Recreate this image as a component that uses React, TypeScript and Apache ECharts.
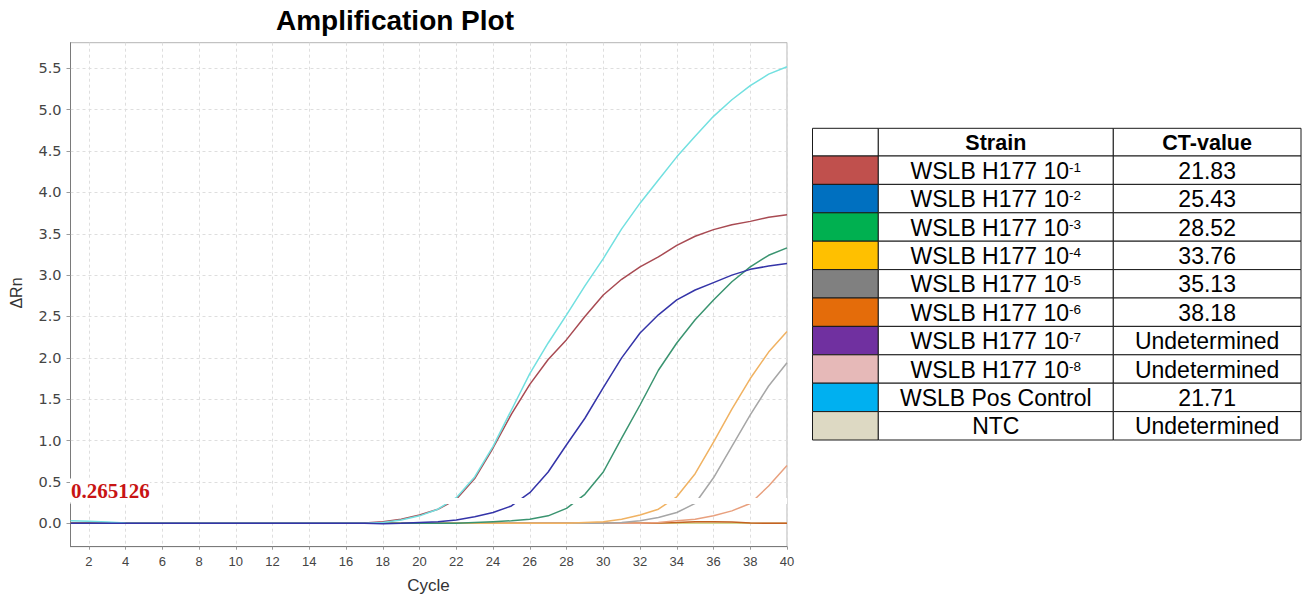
import React, { useEffect, useRef } from "react";
import * as echarts from "echarts";

// ---------- data ----------
const cycles = [1, 2, 3, 4, 5, 6, 7, 8, 9, 10, 11, 12, 13, 14, 15, 16, 17, 18, 19, 20, 21, 22, 23, 24, 25, 26, 27, 28, 29, 30, 31, 32, 33, 34, 35, 36, 37, 38, 39, 40];
const xTicks = [2, 4, 6, 8, 10, 12, 14, 16, 18, 20, 22, 24, 26, 28, 30, 32, 34, 36, 38, 40];
const yTicks = [0, 0.5, 1, 1.5, 2, 2.5, 3, 3.5, 4, 4.5, 5, 5.5];
const threshold = 0.265126;

const posControl = [0.03, 0.025, 0.015, 0.005, 0, 0, 0, 0, 0, 0, 0, 0, 0, 0, 0, 0, 0, 0.01, 0.04, 0.09, 0.17, 0.31, 0.56, 0.93, 1.37, 1.81, 2.18, 2.52, 2.87, 3.2, 3.56, 3.87, 4.15, 4.43, 4.68, 4.92, 5.12, 5.29, 5.43, 5.52];
const dil1 = [0, 0, 0, 0, 0, 0, 0, 0, 0, 0, 0, 0, 0, 0, 0, 0, 0.005, 0.02, 0.05, 0.1, 0.17, 0.29, 0.54, 0.91, 1.32, 1.68, 1.98, 2.22, 2.5, 2.76, 2.95, 3.1, 3.22, 3.36, 3.47, 3.55, 3.61, 3.65, 3.7, 3.73];
const dil2 = [0, 0, 0, 0, 0, 0, 0, 0, 0, 0, 0, 0, 0, 0, 0, 0, 0, -0.005, 0, 0.01, 0.02, 0.04, 0.08, 0.13, 0.21, 0.37, 0.62, 0.95, 1.27, 1.64, 2.0, 2.3, 2.52, 2.7, 2.82, 2.91, 3.0, 3.07, 3.11, 3.14];
const dil3 = [0, 0, 0, 0, 0, 0, 0, 0, 0, 0, 0, 0, 0, 0, 0, 0, 0, 0, 0, 0, 0, 0, 0.01, 0.02, 0.03, 0.05, 0.09, 0.18, 0.35, 0.62, 1.03, 1.43, 1.85, 2.18, 2.46, 2.7, 2.92, 3.1, 3.24, 3.33];
const dil4 = [0, 0, 0, 0, 0, 0, 0, 0, 0, 0, 0, 0, 0, 0, 0, 0, 0, 0, 0, 0, 0, 0, 0, 0, 0, 0, 0, 0, 0.01, 0.02, 0.05, 0.1, 0.17, 0.32, 0.6, 0.98, 1.38, 1.75, 2.07, 2.32];
const dil5 = [0, 0, 0, 0, 0, 0, 0, 0, 0, 0, 0, 0, 0, 0, 0, 0, 0, 0, 0, 0, 0, 0, 0, 0, 0, 0, 0, 0, 0, 0, 0.01, 0.03, 0.07, 0.13, 0.24, 0.55, 0.93, 1.31, 1.66, 1.94];
const dil6 = [0, 0, 0, 0, 0, 0, 0, 0, 0, 0, 0, 0, 0, 0, 0, 0, 0, 0, 0, 0, 0, 0, 0, 0, 0, 0, 0, 0, 0, 0, 0, 0, 0.01, 0.03, 0.05, 0.09, 0.15, 0.24, 0.45, 0.7];
const dil7 = [0, 0, 0, 0, 0, 0, 0, 0, 0, 0, 0, 0, 0, 0, 0, 0, 0, 0, 0, 0, 0, 0, 0, 0, 0, 0, 0, 0, 0, 0, 0, 0, 0.005, 0.01, 0.02, 0.02, 0.015, 0.005, 0, 0];
const dil8 = [0, 0, 0, 0, 0, 0, 0, 0, 0, 0, 0, 0, 0, 0, 0, 0, 0, 0, 0, 0, 0, 0, 0, 0, 0, 0, 0, 0, 0, 0, 0, 0, 0, 0, 0, 0, 0, 0, 0, 0];
const ntc = [0, 0, 0, 0, 0, 0, 0, 0, 0, 0, 0, 0, 0, 0, 0, 0, 0, 0, 0, 0, 0, 0, 0, 0, 0, 0, 0, 0, 0, 0, 0, 0, 0, 0, 0, 0, 0, 0, 0, 0];

// plot series (drawing order) and their line colours
const plotNames = ["WSLB H177 10-8", "NTC", "WSLB H177 10-7", "WSLB H177 10-6", "WSLB H177 10-5", "WSLB H177 10-4", "WSLB H177 10-3", "WSLB H177 10-1", "WSLB Pos Control", "WSLB H177 10-2"];
const plotValues = [dil8, ntc, dil7, dil6, dil5, dil4, dil3, dil1, posControl, dil2];
const plotColors = ["#f09a9a", "#d2d890", "#c46222", "#e8a07e", "#a6a6a6", "#f0b262", "#3a9470", "#a84a52", "#72e0e0", "#3434a8"];

// table
const strainBase = ["WSLB H177 10", "WSLB H177 10", "WSLB H177 10", "WSLB H177 10", "WSLB H177 10", "WSLB H177 10", "WSLB H177 10", "WSLB H177 10", "WSLB Pos Control", "NTC"];
const strainExp = ["-1", "-2", "-3", "-4", "-5", "-6", "-7", "-8", "", ""];
const ctValues = ["21.83", "25.43", "28.52", "33.76", "35.13", "38.18", "Undetermined", "Undetermined", "21.71", "Undetermined"];
const swatchColors = ["#c0504d", "#0070c0", "#00b050", "#ffc000", "#808080", "#e46c0a", "#7030a0", "#e6b9b8", "#00b0f0", "#ddd9c3"];

export default function App() {
  const ref = useRef<HTMLDivElement>(null);

  useEffect(() => {
    const chart = echarts.init(ref.current!, null, { renderer: "svg" });

    const colX = [812.5, 878.3, 1113.3, 1301];
    const headTop = 128.3;
    const headH = 27.7;
    const rowH = 28.4;
    const stroke = "#1a1a1a";
    const font = "Liberation Sans";

    const tableEls: any[] = [];
    const cell = (x0: number, x1: number, y: number, h: number, fill: string) => ({
      type: "rect",
      silent: true,
      z: 100,
      shape: { x: x0, y, width: x1 - x0, height: h },
      style: { fill, stroke, lineWidth: 1 },
    });
    // header
    tableEls.push(cell(colX[0], colX[1], headTop, headH, "#ffffff"));
    tableEls.push(cell(colX[1], colX[2], headTop, headH, "#ffffff"));
    tableEls.push(cell(colX[2], colX[3], headTop, headH, "#ffffff"));
    ["Strain", "CT-value"].forEach((t, k) => {
      tableEls.push({
        type: "text",
        silent: true,
        z: 101,
        x: (colX[k + 1] + colX[k + 2]) / 2,
        y: headTop + headH / 2 + 0.5,
        style: {
          text: t,
          fontFamily: font,
          fontWeight: "bold",
          fontSize: 21.5,
          fill: "#000",
          align: "center",
          verticalAlign: "middle",
        },
      });
    });
    strainBase.forEach((base, i) => {
      const y = headTop + headH + i * rowH;
      tableEls.push(cell(colX[0], colX[1], y, rowH, swatchColors[i]));
      tableEls.push(cell(colX[1], colX[2], y, rowH, "#ffffff"));
      tableEls.push(cell(colX[2], colX[3], y, rowH, "#ffffff"));
      const exp = strainExp[i];
      tableEls.push({
        type: "text",
        silent: true,
        z: 101,
        x: (colX[1] + colX[2]) / 2,
        y: y + rowH / 2 + 0.5,
        style: {
          text: exp ? `{m|${base}}{s|${exp}}` : `{m|${base}}`,
          align: "center",
          verticalAlign: "middle",
          rich: {
            m: { fontFamily: font, fontSize: 23, lineHeight: 26, fill: "#000" },
            s: { fontFamily: font, fontSize: 13.5, height: 19, verticalAlign: "top", fill: "#000" },
          },
        },
      });
      tableEls.push({
        type: "text",
        silent: true,
        z: 101,
        x: (colX[2] + colX[3]) / 2,
        y: y + rowH / 2 + 0.5,
        style: {
          text: ctValues[i],
          fontFamily: font,
          fontSize: 23,
          fill: "#000",
          align: "center",
          verticalAlign: "middle",
        },
      });
    });

    const lineSeries = plotNames.map((name, k) => ({
      type: "line",
      name,
      data: cycles.map((c, i) => [c, plotValues[k][i]]),
      showSymbol: false,
      symbol: "none",
      silent: true,
      lineStyle: { width: 1.5, color: plotColors[k] },
      itemStyle: { color: plotColors[k] },
      emphasis: { disabled: true },
    }));

    const option: any = {
      animation: false,
      backgroundColor: "#ffffff",
      grid: {
        left: 70.5,
        top: 42.7,
        width: 716.5,
        height: 504,
        show: true,
        borderColor: "#b4b4b4",
        borderWidth: 1,
      },
      xAxis: {
        type: "value",
        min: 1,
        max: 40,
        axisLine: { show: true, onZero: false, lineStyle: { color: "#7a7a7a", width: 1 } },
        axisTick: { show: true, length: 3, customValues: xTicks, lineStyle: { color: "#9a9a9a" } },
        axisLabel: {
          customValues: xTicks,
          margin: 8,
          fontFamily: font,
          fontSize: 13,
          color: "#444",
        },
        splitLine: { show: true, lineStyle: { color: "#dedede", type: [3, 3] } },
      },
      yAxis: {
        type: "value",
        min: -0.283,
        max: 5.81,
        axisLine: { show: true, onZero: false, lineStyle: { color: "#7a7a7a", width: 1 } },
        axisTick: { show: true, length: 4, customValues: yTicks, lineStyle: { color: "#9a9a9a" } },
        axisLabel: {
          customValues: yTicks,
          margin: 9,
          fontFamily: "DejaVu Sans",
          fontSize: 14.5,
          color: "#444",
          formatter: (v: number) => v.toFixed(1),
        },
        splitLine: { show: true, lineStyle: { color: "#dedede", type: [3, 3] } },
      },
      series: [
        ...lineSeries,
        {
          type: "line",
          name: "threshold",
          data: [],
          z: 5,
          silent: true,
          markLine: {
            silent: true,
            symbol: ["none", "none"],
            label: { show: false },
            emphasis: { disabled: true },
            lineStyle: { color: "#ffffff", width: 6, type: "solid", opacity: 1 },
            data: [{ yAxis: threshold }],
          },
        },
      ],
      graphic: [
        {
          type: "text",
          silent: true,
          x: 395,
          y: 20.5,
          style: {
            text: "Amplification Plot",
            fontFamily: font,
            fontWeight: "bold",
            fontSize: 28,
            fill: "#000",
            align: "center",
            verticalAlign: "middle",
          },
        },
        {
          type: "text",
          silent: true,
          x: 16,
          y: 293,
          rotation: Math.PI / 2,
          style: {
            text: "ΔRn",
            fontFamily: font,
            fontSize: 16,
            fill: "#333",
            align: "center",
            verticalAlign: "middle",
          },
        },
        {
          type: "text",
          silent: true,
          x: 428.5,
          y: 585,
          style: {
            text: "Cycle",
            fontFamily: font,
            fontSize: 17,
            fill: "#333",
            align: "center",
            verticalAlign: "middle",
          },
        },
        {
          type: "text",
          silent: true,
          z: 50,
          x: 70,
          y: 490.5,
          style: {
            text: threshold.toString(),
            fontFamily: "Liberation Serif",
            fontWeight: "bold",
            fontSize: 21,
            fill: "#c81414",
            backgroundColor: "#ffffff",
            padding: [1, 0, 2, 1],
            align: "left",
            verticalAlign: "middle",
          },
        },
        ...tableEls,
      ],
    };

    chart.setOption(option);
    return () => chart.dispose();
  }, []);

  return (
    <div
      ref={ref}
      style={{ position: "fixed", left: 0, top: 0, width: 1302, height: 596, background: "#fff" }}
    />
  );
}
